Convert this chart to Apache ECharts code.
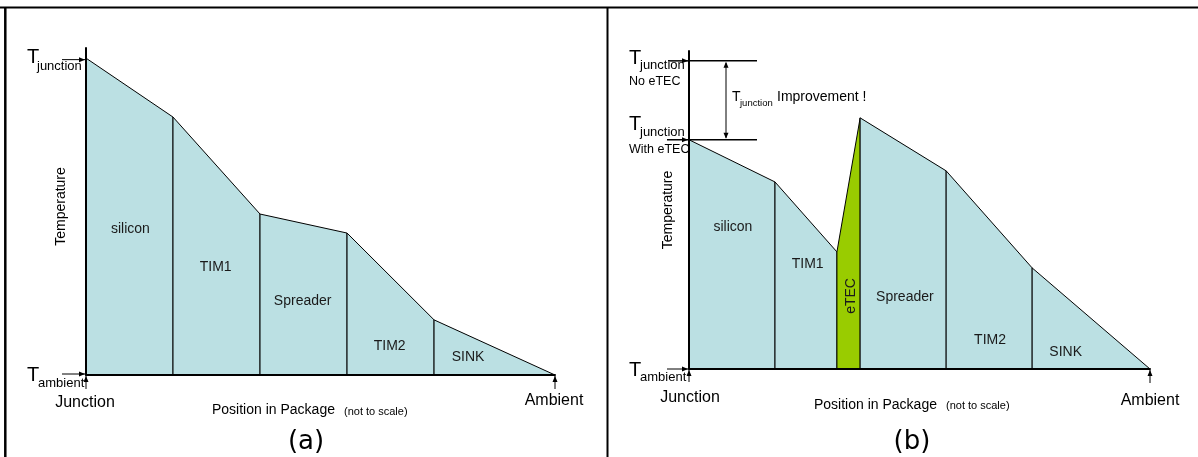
<!DOCTYPE html>
<html><head><meta charset="utf-8">
<script src="https://cdn.jsdelivr.net/npm/echarts@6/dist/echarts.min.js"></script>
<style>html,body{margin:0;padding:0;background:#fff}#c{width:1198px;height:457px}</style>
</head><body><div id="c"></div><script>
// ---------- Panel (a): package without eTEC ----------
const layersA = ['silicon', 'TIM1', 'Spreader', 'TIM2', 'SINK'];
const boundsA = [0, 1, 2, 3, 4, 5.39];              // layer boundaries (position in package, not to scale)
const tempsA  = [100, 81.4, 50.8, 44.8, 17.4, 0];   // temperature at each boundary (Tambient = 0, Tjunction = 100)
const labelXA = [0.51, 1.49, 2.49, 3.49, 4.39];
const labelYA = [46.1, 34.1, 23.3, 9.1, 5.7];
// ---------- Panel (b): package with eTEC ----------
const layersB = ['silicon', 'TIM1', 'eTEC', 'Spreader', 'TIM2', 'SINK'];
const boundsB = [0, 1, 1.72, 1.99, 2.99, 3.99, 5.36];
const tempsB  = [74.4, 60.7, 38.0, 81.5, 64.3, 32.8, 0];
const labelXB = [0.51, 1.38, 1.88, 2.51, 3.5, 4.38];
const labelYB = [46.1, 34.1, 23.7, 23.4, 9.4, 5.5];
const tJunctionNoETEC = 100;
const tMax = 103.2;

const FONT = '"Liberation Sans", Arial, sans-serif';
const BLUE = '#BBE0E3', GREEN = '#99CC00';

function layerData(bounds, temps, lx, ly) {
  const out = [];
  for (let i = 0; i < bounds.length - 1; i++) {
    out.push([bounds[i], bounds[i + 1], temps[i], temps[i + 1], lx[i], ly[i]]);
  }
  return out;
}
function renderLayer(names) {
  return function (params, api) {
    const x0 = api.value(0), x1 = api.value(1), t0 = api.value(2), t1 = api.value(3);
    const pts = [api.coord([x0, 0]), api.coord([x0, t0]), api.coord([x1, t1]), api.coord([x1, 0])];
    const name = names[params.dataIndex];
    const lp = api.coord([api.value(4), api.value(5)]);
    const isTec = name === 'eTEC';
    return {
      type: 'group', children: [
        { type: 'polygon', shape: { points: pts }, style: { fill: isTec ? GREEN : BLUE, stroke: '#000', lineWidth: 1 } },
        { type: 'text', x: lp[0], y: lp[1], rotation: isTec ? Math.PI / 2 : 0,
          style: { text: name, font: '14px ' + FONT, fill: '#1a1a1a', align: 'center', verticalAlign: 'middle' } }
      ]
    };
  };
}
function axisX(gi, max) {
  return { gridIndex: gi, type: 'value', min: 0, max: max, z: 5,
    axisLine: { lineStyle: { color: '#000', width: 2 } }, axisTick: { show: false },
    axisLabel: { show: false }, splitLine: { show: false } };
}
function axisY(gi) {
  return { gridIndex: gi, type: 'value', min: 0, max: tMax, z: 5,
    axisLine: { show: true, lineStyle: { color: '#000', width: 2 } }, axisTick: { show: false },
    axisLabel: { show: false }, splitLine: { show: false } };
}

const chart = echarts.init(document.getElementById('c'));
chart.setOption({
  animation: false,
  backgroundColor: '#fff',
  grid: [{ left: 86, top: 48, width: 469, height: 327 }, { left: 689, top: 51, width: 461, height: 318 }],
  xAxis: [axisX(0, boundsA[boundsA.length - 1]), axisX(1, boundsB[boundsB.length - 1])],
  yAxis: [axisY(0), axisY(1)],
  series: [
    { type: 'custom', xAxisIndex: 0, yAxisIndex: 0, clip: false, renderItem: renderLayer(layersA),
      data: layerData(boundsA, tempsA, labelXA, labelYA) },
    { type: 'custom', xAxisIndex: 1, yAxisIndex: 1, clip: false, renderItem: renderLayer(layersB),
      data: layerData(boundsB, tempsB, labelXB, labelYB) }
  ]
});

// ---------- annotations ----------
const G = [];
function line(x1, y1, x2, y2, w) {
  G.push({ type: 'line', shape: { x1, y1, x2, y2 }, style: { stroke: '#000', lineWidth: w || 1 }, z: 10 });
}
function head(x, y, dx, dy) {
  const L = 6, W = 2.5, len = Math.hypot(dx, dy), ux = dx / len, uy = dy / len;
  G.push({ type: 'polygon', shape: { points: [[x, y], [x - ux * L - uy * W, y - uy * L + ux * W], [x - ux * L + uy * W, y - uy * L - ux * W]] },
    style: { fill: '#000' }, z: 10 });
}
function arrow(x1, y1, x2, y2, w) { line(x1, y1, x2, y2, w); head(x2, y2, x2 - x1, y2 - y1); }
function text(x, y, s, size, align, rot, fam) {
  G.push({ type: 'text', x, y, rotation: rot || 0, z: 10,
    style: { text: s, font: size + 'px ' + (fam || FONT), fill: '#000', align: align || 'left', verticalAlign: 'middle' } });
}
function tsub(x, y, sub, big, small, dx, dy) {
  text(x, y, 'T', big);
  text(x + dx, y + dy, sub, small);
}

const pA = p => chart.convertToPixel({ gridIndex: 0 }, p);
const pB = p => chart.convertToPixel({ gridIndex: 1 }, p);

// frame
line(0, 7.5, 1198, 7.5, 2);
line(5.3, 7, 5.3, 457, 2.5);
line(607.5, 7, 607.5, 457, 2);

// panel (a)
const oA = pA([0, 0]), jA = pA([0, tempsA[0]]), eA = pA([boundsA[boundsA.length - 1], 0]);
arrow(oA[0] - 24, jA[1] + 1.5, oA[0] - 1, jA[1] + 1.5);
tsub(oA[0] - 59, jA[1] - 0.5, 'junction', 20, 13, 10, 9);
arrow(oA[0] - 24, oA[1] - 1, oA[0] - 1, oA[1] - 1);
tsub(oA[0] - 59, oA[1] + 0.5, 'ambient', 20, 13, 11, 7.5);
arrow(oA[0], oA[1] + 14, oA[0], oA[1] + 1);
arrow(eA[0], eA[1] + 14, eA[0], eA[1] + 1);
text(oA[0] - 1, oA[1] + 27.5, 'Junction', 16, 'center');
text(eA[0] - 1, eA[1] + 25.5, 'Ambient', 16, 'center');
text(212, 410.5, 'Position in Package', 14, 'left');
text(344, 411.5, '(not to scale)', 11, 'left');
text(61, 206.5, 'Temperature', 14, 'center', Math.PI / 2);
text(306, 442, '(a)', 26, 'center', 0, '"DejaVu Sans", Verdana, sans-serif');

// panel (b)
const oB = pB([0, 0]), jB = pB([0, tJunctionNoETEC]), wB = pB([0, tempsB[0]]), eB = pB([boundsB[boundsB.length - 1], 0]);
const gapX = jB[0] + 37;
arrow(oB[0] - 21, jB[1], oB[0] - 1, jB[1], 1.5);
line(oB[0], jB[1], oB[0] + 68, jB[1], 1.5);
arrow(oB[0] - 22, wB[1], oB[0] - 1, wB[1], 1.5);
line(oB[0], wB[1], oB[0] + 68, wB[1], 1.5);
line(gapX, jB[1] + 2, gapX, wB[1] - 2, 1);
head(gapX, jB[1] + 1, 0, -1);
head(gapX, wB[1] - 1, 0, 1);
tsub(oB[0] - 60, jB[1] - 2.5, 'junction', 20, 13, 11, 7.5);
text(oB[0] - 60, jB[1] + 21, 'No eTEC', 12.5, 'left');
tsub(oB[0] - 60, wB[1] - 15, 'junction', 20, 13, 11, 8);
text(oB[0] - 60, wB[1] + 10, 'With eTEC', 12.5, 'left');
text(gapX + 6, 97, 'T', 14, 'left');
text(gapX + 14, 103, 'junction', 9.5, 'left');
text(gapX + 51, 97.5, 'Improvement !', 14, 'left');
arrow(oB[0] - 22, oB[1], oB[0] - 1, oB[1]);
tsub(oB[0] - 60, oB[1] + 1, 'ambient', 20, 13, 11, 7);
arrow(oB[0], oB[1] + 13, oB[0], oB[1] + 1);
arrow(eB[0], eB[1] + 14, eB[0], eB[1] + 1);
text(oB[0] + 1, oB[1] + 28.5, 'Junction', 16, 'center');
text(eB[0], eB[1] + 32, 'Ambient', 16, 'center');
text(814, 405, 'Position in Package', 14, 'left');
text(946, 406, '(not to scale)', 11, 'left');
text(668, 210, 'Temperature', 14, 'center', Math.PI / 2);
text(912, 442, '(b)', 26, 'center', 0, '"DejaVu Sans", Verdana, sans-serif');

chart.setOption({ graphic: G });
</script></body></html>
